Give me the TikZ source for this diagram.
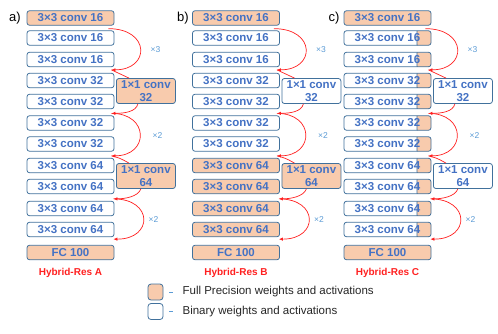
\documentclass[tikz,border=0pt]{standalone}
\usepackage{fontspec}
\setmainfont{Liberation Sans}
\usetikzlibrary{arrows.meta,calc}
\definecolor{fpc}{HTML}{F8CBAD}
\definecolor{bordc}{HTML}{41719C}
\definecolor{txtc}{HTML}{4472C4}
\definecolor{multc}{HTML}{5B9BD5}
\definecolor{redc}{HTML}{FF2020}
\definecolor{legc}{HTML}{262626}
\newcommand\boxfont{\fontsize{11.5}{13.5}\selectfont\bfseries}
\tikzset{
  box/.style={draw=bordc, line width=0.8pt, rounded corners=2.5pt, minimum width=87pt, minimum height=14.5pt, inner sep=0pt, font=\boxfont, text=txtc},
  fp/.style={box, fill=fpc},
  bn/.style={box, fill=white},
  hyb/.style={box, fill=white, path picture={
      \draw[bordc, line width=0.8pt, fill=fpc, rounded corners=2.5pt]
        ([xshift=-14pt,yshift=2pt]path picture bounding box.north east) rectangle ([xshift=3pt,yshift=-2pt]path picture bounding box.south east);}},
  pbox/.style={box, minimum width=59pt, minimum height=25pt, align=center},
  arr/.style={redc, line width=0.7pt, -{Latex[length=4pt,width=3.5pt]}},
  ln/.style={redc, line width=0.7pt},
  mult/.style={font=\fontsize{8.5}{10}\selectfont, text=multc, inner sep=0pt},
  lbl/.style={font=\fontsize{13}{15}\selectfont, text=black, inner sep=0pt},
  hyname/.style={font=\fontsize{10}{12}\selectfont\bfseries, text=redc, inner sep=0pt},
  legtext/.style={font=\fontsize{11.5}{13}\selectfont, text=legc, inner sep=0pt, anchor=west},
  legbox/.style={draw=bordc, line width=0.8pt, rounded corners=3pt, minimum width=15pt, minimum height=16pt, inner sep=0pt},
}
% #1 prefix, #2 center x, #3 row0 style, #4 rows 1-6 style, #5 rows 7-10 style, #6 1x1a style, #7 1x1b style
\newcommand\drawcolumn[7]{%
  \foreach \i/\y/\t in {1/38/16,2/59.5/16,3/80.5/32,4/101.5/32,5/123/32,6/144/32}{
    \node[#4] (#1r\i) at (#2,\y) {3×3 conv \t};
  }
  \foreach \i/\y/\t in {7/165.5/64,8/186.5/64,9/208.5/64,10/229.5/64}{
    \node[#5] (#1r\i) at (#2,\y) {3×3 conv \t};
  }
  \node[#3] (#1r0) at (#2,18) {3×3 conv 16};
  \node[fp] (#1fc) at (#2,252.5) {FC 100};
  \node[#6] (#1pa) at ($(#1r0.east)+(31.5,73)$) {1×1 conv\\32};
  \node[#7] (#1pb) at ($(#1r0.east)+(31.5,158)$) {1×1 conv\\64};
  % arcs
  \draw[arr] ($(#1r0.south east)+(-6,3)$) .. controls ($(#1r0.south east)+(36,3)$) and ($(#1r3.north east)+(36,-3)$) .. ($(#1r3.north east)+(-3,-3)$);
  \draw[ln] ($(#1pa.north west)+(13,0)$) .. controls ($(#1pa.north west)+(4,-5)$) .. ($(#1r3.north east)+(-3,-3)$);
  \draw[arr] ($(#1pa.south)+(-8,0)$) .. controls ($(#1pa.south)+(-10,8)$) and ($(#1r5.north east)+(10,-2)$) .. ($(#1r5.north east)+(-3,-2)$);
  \draw[arr] ($(#1r5.north east)+(-3,-2)$) .. controls ($(#1r5.north east)+(35,-2)$) and ($(#1r7.north east)+(35,-2)$) .. ($(#1r7.north east)+(-3,-2)$);
  \draw[ln] ($(#1pb.north west)+(13,0)$) .. controls ($(#1pb.north west)+(4,-5)$) .. ($(#1r7.north east)+(-3,-2)$);
  \draw[arr] ($(#1pb.south)+(-5,0)$) .. controls ($(#1pb.south)+(-8,8)$) and ($(#1r9.north east)+(10,-2)$) .. ($(#1r9.north east)+(-1,-2)$);
  \draw[arr] ($(#1r9.north east)+(-1,-2)$) .. controls ($(#1r9.north east)+(39,-2)$) and ($(#1r10.south east)+(39,2)$) .. ($(#1r10.south east)+(-1,2)$);
  \node[mult] (#1m1) at ($(#1r0.east)+(41,32)$) {×3};
  \node[mult] (#1m2) at ($(#1r0.east)+(43,118)$) {×2};
  \node[mult] (#1m3) at ($(#1r0.east)+(39,202)$) {×2};
}
\begin{document}
\begin{tikzpicture}[x=1pt,y=-1pt]
\useasboundingbox (0,0) rectangle (498,333);
\drawcolumn{a}{70.5}{fp}{bn}{bn}{pbox,fill=fpc}{pbox,fill=fpc}
\drawcolumn{b}{236}{fp}{bn}{fp}{pbox,fill=white}{pbox,fill=fpc}
\drawcolumn{c}{387.5}{fp}{hyb}{hyb}{pbox,fill=white}{pbox,fill=white}
\node[lbl] (la) at (15,18) {a)};
\node[lbl] (lb) at (183,18) {b)};
\node[lbl] (lc) at (334,18) {c)};
\node[hyname] (ha) at (70.5,273) {Hybrid-Res A};
\node[hyname] (hb) at (236,273) {Hybrid-Res B};
\node[hyname] (hc) at (387.5,273) {Hybrid-Res C};
\node[legbox, fill=fpc] (lg1) at (155.5,292) {};
\node[legbox, fill=white] (lg2) at (155.5,311.5) {};
\coordinate (d1) at ($(lg1.east)+(6,0)$);
\coordinate (d2) at ($(lg2.east)+(6,0)$);
\draw[multc, line width=0.7pt] (d1) -- ++(4,0) coordinate (d1e);
\draw[multc, line width=0.7pt] (d2) -- ++(4,0) coordinate (d2e);
\node[legtext] (t1) at ($(d1e)+(9,0)$) {Full Precision weights and activations};
\node[legtext] (t2) at ($(d2e)+(9,0)$) {Binary weights and activations};
\end{tikzpicture}
\end{document}
